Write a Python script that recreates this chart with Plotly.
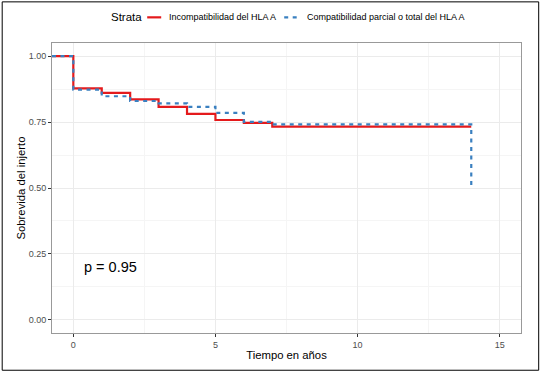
import plotly.graph_objects as go

# Data
time_red = [-0.75, 0, 0, 1, 2, 3, 4, 5, 6, 7, 14]
surv_red = [1.0, 1.0, 0.878, 0.861, 0.836, 0.808, 0.781, 0.758, 0.747, 0.733, 0.733]
time_blue = [-0.75, 0, 0, 1, 2, 3, 4, 5, 6, 7, 14, 14]
surv_blue = [1.0, 1.0, 0.873, 0.848, 0.830, 0.821, 0.808, 0.785, 0.751, 0.741, 0.741, 0.494]
name_red = "Incompatibilidad del HLA A"
name_blue = "Compatibilidad parcial o total del HLA A"
legend_title = "Strata"
pval_text = "p = 0.95"
x_ticks = [0, 5, 10, 15]
y_ticks = [0.0, 0.25, 0.5, 0.75, 1.0]
y_ticktext = ["0.00", "0.25", "0.50", "0.75", "1.00"]

RED = "#E41A1C"
BLUE = "#3A80C0"
W, H = 542, 372
L, R, T, B = 52.3, 521.3, 42.7, 333.2
pw, ph = R - L, B - T


def px_x(px):
    return (px - L) / pw


def px_y(py):
    return (B - py) / ph


fig = go.Figure()
fig.add_trace(go.Scatter(x=time_red, y=surv_red, mode="lines", name=name_red, showlegend=False,
                         line=dict(color=RED, width=2.2, shape="hv")))
fig.add_trace(go.Scatter(x=time_blue, y=surv_blue, mode="lines", name=name_blue, showlegend=False,
                         line=dict(color=BLUE, width=2.2, shape="hv", dash="4px,4.5px")))

fig.add_annotation(x=0.3, y=0.2, xref="x", yref="y", text=pval_text, showarrow=False,
                   xanchor="left", yanchor="middle",
                   font=dict(size=14.5, color="black", family="Liberation Sans"))

# outer border
fig.add_shape(type="rect", xref="paper", yref="paper",
              x0=px_x(2.5), x1=px_x(539), y0=px_y(370.5), y1=px_y(1.5),
              line=dict(color="black", width=1), fillcolor="rgba(0,0,0,0)", layer="above")

# custom legend
ly = px_y(17.0)
fig.add_annotation(x=px_x(109.5), y=ly, xref="paper", yref="paper", text=legend_title,
                   showarrow=False, xanchor="left", yanchor="middle",
                   font=dict(size=11.5, color="black"))
fig.add_shape(type="line", xref="paper", yref="paper", x0=px_x(147.5), x1=px_x(161.5), y0=ly, y1=ly,
              line=dict(color=RED, width=2.2))
fig.add_annotation(x=px_x(167.5), y=ly, xref="paper", yref="paper", text=name_red,
                   showarrow=False, xanchor="left", yanchor="middle",
                   font=dict(size=9, color="black"))
fig.add_shape(type="line", xref="paper", yref="paper", x0=px_x(284.5), x1=px_x(297.5), y0=ly, y1=ly,
              line=dict(color=BLUE, width=2.2, dash="4px,4.5px"))
fig.add_annotation(x=px_x(305.5), y=ly, xref="paper", yref="paper", text=name_blue,
                   showarrow=False, xanchor="left", yanchor="middle",
                   font=dict(size=9, color="black"))

axis_common = dict(showline=True, linecolor="#999999", linewidth=1, mirror=True,
                   ticks="outside", ticklen=3, tickcolor="#333333", tickwidth=1,
                   showgrid=True, gridcolor="#EBEBEB", gridwidth=1, zeroline=False,
                   automargin=False,
                   tickfont=dict(size=9, color="#4D4D4D", family="Liberation Sans"))

fig.update_layout(
    width=W, height=H,
    margin=dict(l=L, r=W - R, t=T, b=H - B, autoexpand=False),
    paper_bgcolor="white", plot_bgcolor="white",
    font=dict(family="Liberation Sans", color="black"),
    xaxis=dict(range=[-0.75, 15.75], tickvals=x_ticks,
               minor=dict(dtick=2.5, tick0=0, showgrid=True, gridcolor="#F5F5F5", ticks=""),
               title=dict(text="Tiempo en años", font=dict(size=11.3), standoff=2),
               **axis_common),
    yaxis=dict(range=[-0.05, 1.05], tickvals=y_ticks, ticktext=y_ticktext,
               minor=dict(dtick=0.125, tick0=0, showgrid=True, gridcolor="#F5F5F5", ticks=""),
               title=dict(text="Sobrevida del injerto", font=dict(size=11.3), standoff=0),
               **axis_common),
    showlegend=False,
)

fig.write_html("out.html", config={"displayModeBar": False},
               post_script="document.body.style.margin='0';document.body.style.overflow='hidden';")
